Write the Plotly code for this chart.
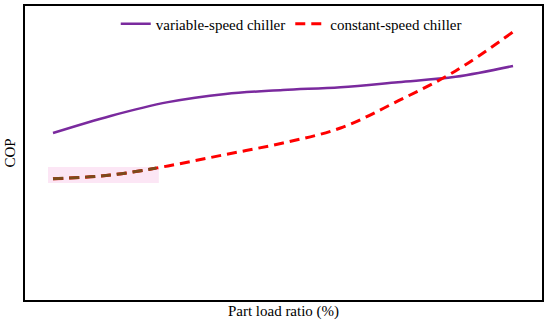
import plotly.graph_objects as go

# Part load ratio (%) and COP (arbitrary units)
plr = [20, 30, 40, 50, 60, 70, 80, 90, 100]
cop_variable = [5.68, 6.26, 6.73, 7.01, 7.14, 7.24, 7.41, 7.59, 7.96]
cop_constant = [4.12, 4.25, 4.56, 4.95, 5.34, 5.85, 6.77, 7.79, 9.12]

# early part of the constant-speed curve drawn in brown over a pink band
plr_brown = [20, 30, 38]
cop_brown = [4.12, 4.25, 4.49]

font_family = "Liberation Serif, Times New Roman, serif"

fig = go.Figure()

# pink band behind the brown segment
fig.add_shape(type="rect", x0=19.13, x1=38.4, y0=3.98, y1=4.52,
              fillcolor="#fce6f5", line=dict(width=0), layer="below")

fig.add_trace(go.Scatter(
    x=plr, y=cop_variable, mode="lines", name="variable-speed chiller",
    line=dict(color="#7a2a9e", width=2.5, shape="spline"),
))
fig.add_trace(go.Scatter(
    x=plr, y=cop_constant, mode="lines", name="constant-speed chiller",
    line=dict(color="#ff0000", width=3, dash="10px,6px", shape="spline"),
))
fig.add_trace(go.Scatter(
    x=plr_brown, y=cop_brown, mode="lines", showlegend=False,
    line=dict(color="#7b4a1c", width=3, dash="10px,6px", shape="spline"),
))

fig.update_layout(
    width=550, height=326,
    margin=dict(l=25, r=8, t=6, b=26),
    paper_bgcolor="white", plot_bgcolor="white",
    font=dict(family=font_family, size=15, color="black"),
    showlegend=True,
    legend=dict(orientation="h", x=0.515, xanchor="center", y=0.995, yanchor="top",
                bgcolor="rgba(0,0,0,0)", itemwidth=30,
                font=dict(family=font_family, size=15, color="black")),
)
fig.update_xaxes(range=[15.13, 105.04], showline=True, linecolor="black", linewidth=2,
                 mirror=True, showgrid=False, zeroline=False, showticklabels=False,
                 ticks="", automargin=False,
                 title=dict(text="Part load ratio (%)", standoff=4,
                            font=dict(family=font_family, size=15)))
fig.update_yaxes(range=[0, 10], showline=True, linecolor="black", linewidth=2,
                 mirror=True, showgrid=False, zeroline=False, showticklabels=False,
                 ticks="", automargin=False,
                 title=dict(text="COP", standoff=4,
                            font=dict(family=font_family, size=15)))

fig.write_html("out.html", config={"displayModeBar": False},
               post_script="document.body.style.margin='0';")
